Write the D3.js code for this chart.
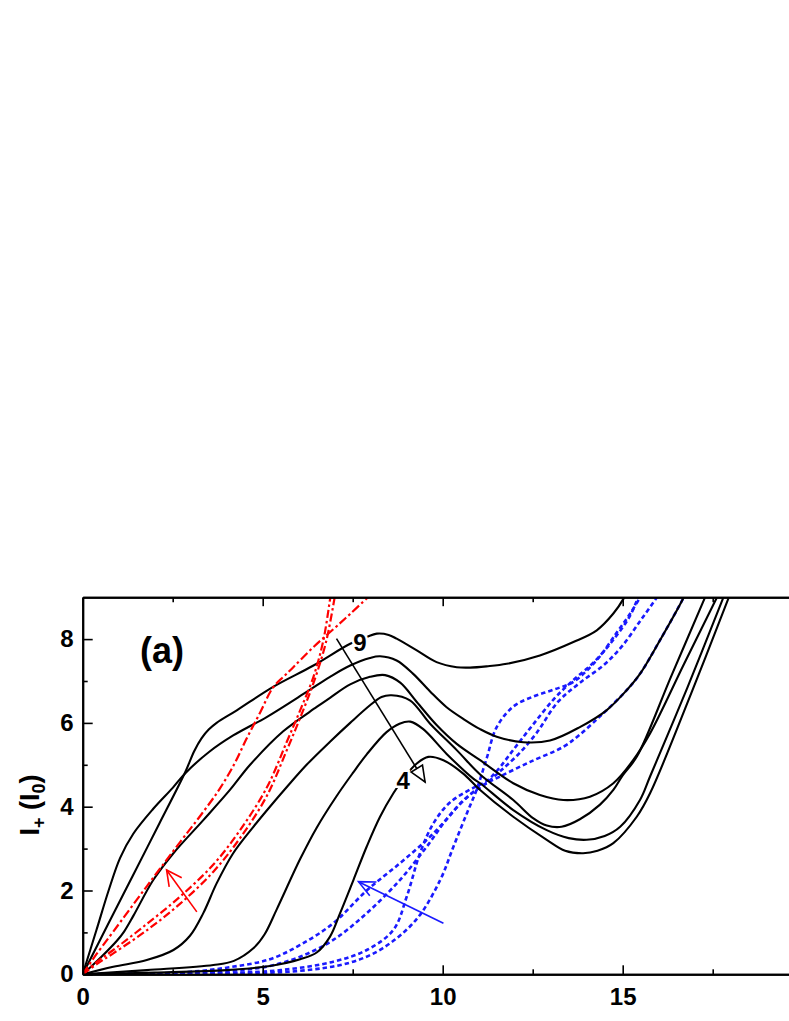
<!DOCTYPE html>
<html><head><meta charset="utf-8">
<script src="https://cdn.jsdelivr.net/npm/d3@7"></script>
<style>
html,body{margin:0;padding:0;background:#fff;}
svg{display:block;font-family:Arial,"Liberation Sans",sans-serif;}
</style></head><body>
<svg id="chart" width="789" height="1021"></svg>
<script>
// ---------- data (x, I+/I0) ----------
const xMajorTicks = [0, 5, 10, 15, 20];
const xMinorTicks = [2.5, 7.5, 12.5, 17.5];
const yMajorTicks = [0, 2, 4, 6, 8];
const yMinorTicks = [1, 3, 5, 7];

// black solid curves, labelled 9 ... 4
const curve9 = [[0,0],[0.7,1.19],[1.42,2.4],[2.13,3.6],[2.84,4.81],[3.1,5.33],[3.3,5.63],[3.5,5.84],[3.72,6.0],[4.28,6.3],[5.29,6.86],[6.41,7.37],[7.43,7.89],[7.89,8.05],[8.17,8.13],[8.5,8.1],[8.72,8.01],[9.28,7.73],[9.83,7.45],[10.39,7.33],[10.76,7.32],[11.22,7.35],[11.78,7.41],[12.7,7.61],[13.63,7.93],[14.28,8.21],[14.74,8.61],[15.02,8.96],[15.15,9.2]];
const curve8 = [[0,0],[0.38,1.05],[0.72,2.0],[1.04,2.78],[1.41,3.36],[1.96,3.95],[2.5,4.45],[2.85,4.8],[3.5,5.3],[4.18,5.7],[5.11,6.14],[6.22,6.74],[6.87,7.1],[7.43,7.37],[7.98,7.55],[8.26,7.59],[8.72,7.49],[9.18,7.17],[9.65,6.75],[10.1,6.38],[10.6,6.08],[11.04,5.85],[11.5,5.67],[12.24,5.54],[12.98,5.58],[13.81,5.9],[14.55,6.3],[15.11,6.78],[15.48,7.17],[16.04,7.98],[16.68,8.97],[16.75,9.1]];
const curve7 = [[0,0],[0.5,0.4],[0.95,0.8],[1.15,1.02],[1.41,1.4],[1.96,2.25],[2.52,2.89],[3.35,3.68],[4.09,4.4],[4.65,5.0],[5.57,5.8],[6.5,6.38],[6.87,6.6],[7.43,6.92],[7.98,7.1],[8.4,7.14],[8.82,6.96],[9.28,6.5],[9.83,5.95],[10.39,5.5],[11.04,5.11],[11.96,4.56],[12.7,4.28],[13.35,4.16],[14.09,4.24],[14.74,4.56],[15.29,5.11],[15.76,5.75],[16.7,7.4],[17.62,9.0],[17.7,9.15]];
const curve6 = [[0,0],[0.85,0.18],[1.78,0.34],[2.52,0.58],[2.98,0.92],[3.35,1.46],[3.72,2.17],[4.18,2.89],[4.74,3.52],[5.2,4.0],[5.67,4.47],[6.22,5.0],[6.87,5.55],[7.43,6.0],[7.98,6.42],[8.3,6.62],[8.58,6.66],[9.09,6.54],[9.65,5.98],[10.39,5.35],[11.04,4.77],[11.96,4.16],[12.52,3.72],[12.89,3.55],[13.3,3.52],[13.81,3.7],[14.37,4.05],[14.74,4.4],[15.0,4.75],[15.39,5.19],[16.34,7.1],[17.29,9.0],[17.36,9.15]];
const curve5 = [[0,0],[1.78,0.1],[3.63,0.22],[4.2,0.32],[4.74,0.62],[5.05,0.95],[5.39,1.55],[6.04,2.75],[6.5,3.5],[7.05,4.25],[7.5,4.8],[7.89,5.25],[8.44,5.78],[8.8,5.98],[9.1,6.03],[9.46,5.85],[10.11,5.26],[10.85,4.67],[11.04,4.56],[11.96,3.92],[12.89,3.44],[13.5,3.25],[14.0,3.21],[14.5,3.3],[14.93,3.52],[15.48,4.16],[15.76,4.72],[16.8,6.85],[17.8,9.0],[17.87,9.15]];
const curve4 = [[0,0],[2,0.04],[4,0.1],[5.2,0.2],[6.04,0.36],[6.5,0.52],[6.87,0.9],[7.15,1.46],[7.52,2.25],[7.89,3.05],[8.26,3.76],[8.63,4.32],[8.95,4.72],[9.28,5.03],[9.6,5.19],[10.02,5.11],[10.57,4.79],[11.04,4.4],[11.96,3.76],[12.89,3.21],[13.4,2.95],[13.9,2.89],[14.3,2.95],[14.74,3.13],[15.39,3.76],[15.76,4.32],[16.9,6.7],[17.95,9.0],[18.02,9.15]];

// red dash-dot curves
const redA = [[0,0],[0.3,0.38],[0.85,1.02],[1.78,2.1],[2.7,3.15],[3.3,3.82],[3.8,4.42],[4.2,5.0],[4.55,5.62],[4.93,6.25],[5.29,6.85],[5.6,7.12],[5.85,7.33],[6.41,7.81],[7.15,8.38],[7.43,8.6],[7.89,8.97],[8.0,9.05]];
const redB = [[0,0],[0.4,0.3],[0.85,0.58],[1.78,1.2],[2.7,1.85],[3.63,2.62],[4.37,3.44],[5.11,4.45],[5.67,5.55],[6.04,6.3],[6.41,7.1],[6.68,7.95],[6.88,9.0],[6.92,9.2]];
const redC = [[0,0],[0.4,0.25],[0.85,0.5],[1.78,1.05],[2.7,1.68],[3.63,2.45],[4.37,3.25],[5.11,4.25],[5.67,5.35],[6.04,6.12],[6.41,6.95],[6.75,7.9],[7.0,9.0],[7.04,9.2]];

// blue dotted curves
const blue1 = [[0,0],[2,0.02],[3,0.06],[4.09,0.17],[5.2,0.36],[6.04,0.7],[6.96,1.22],[7.89,2.0],[8.81,2.65],[9.56,3.21],[10.11,3.7],[10.57,4.15],[11.1,4.5],[11.59,4.72],[12.43,5.07],[13.35,5.43],[13.81,5.72],[14.3,6.1],[14.55,6.3],[15.11,6.78],[15.48,7.17],[16.04,7.98],[16.68,8.97],[16.75,9.1]];
const blue2 = [[0,0],[3,0.04],[4.5,0.11],[5.2,0.2],[6.04,0.42],[6.96,0.82],[7.89,1.46],[8.81,2.25],[9.56,3.05],[10.2,3.8],[10.85,4.35],[11.2,4.55],[11.6,4.85],[12.1,5.25],[12.6,5.75],[13.2,6.5],[13.8,6.95],[14.5,7.4],[15.0,7.85],[15.5,8.45],[15.95,9.0],[16.05,9.15]];
const blue3 = [[0,0],[4,0.03],[5.5,0.1],[6.96,0.3],[7.89,0.58],[8.63,1.06],[9.0,1.85],[9.37,2.89],[9.74,3.6],[10.2,4.1],[10.85,4.45],[11.2,4.6],[11.5,4.85],[12.0,5.4],[12.5,5.95],[13.07,6.55],[13.6,7.0],[14.2,7.45],[14.8,8.05],[15.2,8.55],[15.43,9.0],[15.5,9.15]];
const blue4 = [[0,0],[4,0.02],[6,0.08],[7.43,0.28],[8.33,0.62],[9.26,1.3],[9.93,2.25],[10.3,3.05],[10.67,3.84],[10.94,4.4],[11.22,5.15],[11.5,5.9],[11.96,6.39],[12.52,6.63],[13.07,6.79],[13.63,6.98],[14.28,7.5],[14.83,8.15],[15.2,8.6],[15.48,9.0],[15.55,9.15]];

// annotation arrows (from, to) and curve labels, in data units
const arrowBlack = [[7.05,8.01],[9.51,4.59]];
const arrowRed = [[3.17,1.49],[2.33,2.49]];
const arrowBlue = [[10.02,1.22],[7.66,2.21]];
const curveLabels = [["9",7.7,7.93],["4",8.9,4.62]];

// ---------- drawing ----------
const svg = d3.select('#chart');
const x = d3.scaleLinear().domain([0,20]).range([82.7,802.7]);
const y = d3.scaleLinear().domain([0,9]).range([974.3,597.2]);

svg.append('defs').append('clipPath').attr('id','plotclip')
  .append('rect').attr('x',x(0)).attr('y',y(9)).attr('width',x(20)-x(0)).attr('height',y(0)-y(9));

const line = d3.line().x(d=>x(d[0])).y(d=>y(d[1])).curve(d3.curveCatmullRom.alpha(0.5));
const plot = svg.append('g').attr('clip-path','url(#plotclip)');

[blue1,blue2,blue3,blue4].forEach(c=>{
  plot.append('path').attr('d',line(c)).attr('fill','none')
    .attr('stroke','#1a1aff').attr('stroke-width',2.6).attr('stroke-dasharray','4.5,3');
});
[curve9,curve8,curve7,curve6,curve5,curve4].forEach(c=>{
  plot.append('path').attr('d',line(c)).attr('fill','none')
    .attr('stroke','#000').attr('stroke-width',2.1).attr('stroke-linejoin','round');
});
[[redA,'9,3,2.5,3'],[redB,'8,3,2.5,3'],[redC,'8,3,2.5,3']].forEach(([c,da])=>{
  plot.append('path').attr('d',line(c)).attr('fill','none')
    .attr('stroke','#ff0000').attr('stroke-width',2.2).attr('stroke-dasharray',da);
});

// curve labels with white halo
curveLabels.forEach(([t,cx,cy])=>{
  svg.append('text').attr('x',x(cx)).attr('y',y(cy)).attr('dy','0.36em')
    .attr('text-anchor','middle').attr('font-size',24).attr('font-weight','bold')
    .attr('stroke','#fff').attr('stroke-width',5).attr('paint-order','stroke')
    .attr('fill','#000').text(t);
});

function arrow(pts,color,len,angDeg,closed){
  const p0=[x(pts[0][0]),y(pts[0][1])], p1=[x(pts[1][0]),y(pts[1][1])];
  const dx=p1[0]-p0[0], dy=p1[1]-p0[1], L=Math.hypot(dx,dy);
  const ux=dx/L, uy=dy/L, a=angDeg*Math.PI/180;
  const rot=(s)=>[ux*Math.cos(s*a)-uy*Math.sin(s*a), ux*Math.sin(s*a)+uy*Math.cos(s*a)];
  const r1=rot(1), r2=rot(-1);
  const w1=[p1[0]-len*r1[0],p1[1]-len*r1[1]], w2=[p1[0]-len*r2[0],p1[1]-len*r2[1]];
  svg.append('line').attr('x1',p0[0]).attr('y1',p0[1]).attr('x2',p1[0]).attr('y2',p1[1])
    .attr('stroke',color).attr('stroke-width',1.6);
  svg.append('path').attr('d',`M${w1}L${p1}L${w2}`+(closed?'Z':''))
    .attr('fill',closed?'#fff':'none').attr('stroke',color).attr('stroke-width',1.6)
    .attr('stroke-linejoin','miter');
}
arrow(arrowBlack,'#000',17,23,true);
arrow(arrowRed,'#ff0000',17,27,false);
arrow(arrowBlue,'#1a1aff',18,25,false);

// ---------- axes ----------
const axG = svg.append('g');
function styleAxis(g){
  g.selectAll('.domain').attr('stroke','#000').attr('stroke-width',2);
  g.selectAll('.tick line').attr('stroke','#000').attr('stroke-width',1.6);
  g.selectAll('.tick text').attr('font-size',24).attr('font-weight','bold')
    .attr('font-family','Arial,"Liberation Sans",sans-serif').attr('fill','#000');
}
axG.append('g').attr('transform',`translate(0,${y(0)})`)
  .call(d3.axisBottom(x).tickValues(xMajorTicks.filter(v=>v<20)).tickFormat(d3.format('d'))
    .tickSizeInner(-9).tickSizeOuter(0).tickPadding(14)).call(styleAxis);
axG.append('g').attr('transform',`translate(0,${y(0)})`)
  .call(d3.axisBottom(x).tickValues(xMinorTicks).tickFormat('').tickSizeInner(-5).tickSizeOuter(0)).call(styleAxis);
axG.append('g').attr('transform',`translate(0,${y(9)})`)
  .call(d3.axisTop(x).tickValues(xMajorTicks).tickFormat('').tickSizeInner(-9).tickSizeOuter(0)).call(styleAxis);
axG.append('g').attr('transform',`translate(0,${y(9)})`)
  .call(d3.axisTop(x).tickValues(xMinorTicks).tickFormat('').tickSizeInner(-5).tickSizeOuter(0)).call(styleAxis);
axG.append('g').attr('transform',`translate(${x(0)},0)`)
  .call(d3.axisLeft(y).tickValues(yMajorTicks).tickFormat(d3.format('d'))
    .tickSizeInner(-10).tickSizeOuter(0).tickPadding(9)).call(styleAxis);
axG.append('g').attr('transform',`translate(${x(0)},0)`)
  .call(d3.axisLeft(y).tickValues(yMinorTicks).tickFormat('').tickSizeInner(-5).tickSizeOuter(0)).call(styleAxis);

// y-axis title
const yt = svg.append('text').attr('transform','translate(39,805) rotate(-90)')
  .attr('text-anchor','middle').attr('font-size',27).attr('font-weight','bold').attr('fill','#000');
yt.append('tspan').text('I');
yt.append('tspan').attr('font-size',18).attr('dy',6).text('+');
yt.append('tspan').attr('dy',-6).text(' (I');
yt.append('tspan').attr('font-size',18).attr('dy',6).text('0');
yt.append('tspan').attr('dy',-6).text(')');

// panel label
svg.append('text').attr('x',140).attr('y',663).attr('font-size',36).attr('font-weight','bold')
  .attr('fill','#000').text('(a)');
</script></body></html>
